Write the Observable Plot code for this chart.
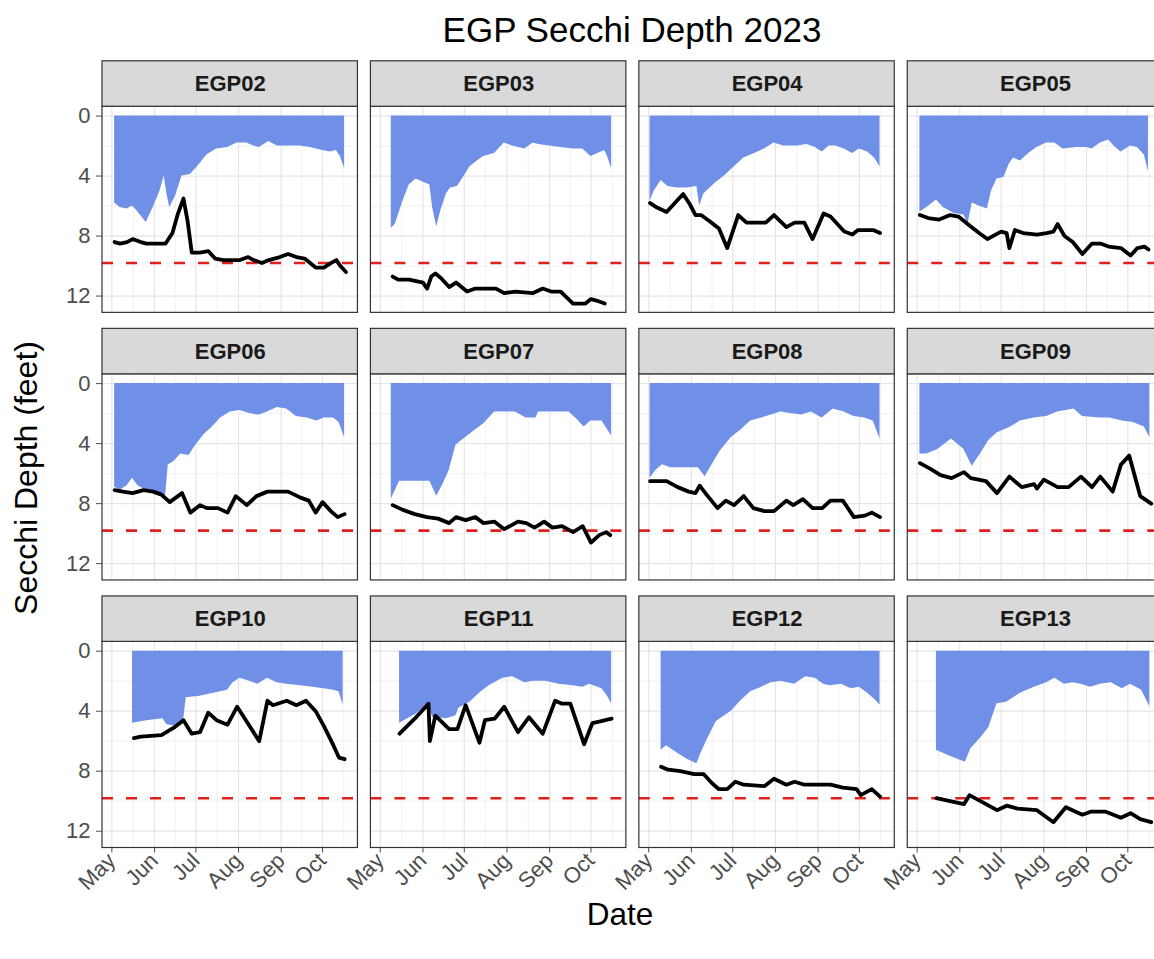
<!DOCTYPE html>
<html><head><meta charset="utf-8">
<script src="https://cdn.jsdelivr.net/npm/d3@7"></script>
<script src="https://cdn.jsdelivr.net/npm/@observablehq/plot@0.6"></script>
<style>
html,body{margin:0;padding:0;background:#fff;overflow:hidden;}
#wrap{position:relative;width:1154px;height:959px;overflow:hidden;font-family:"Liberation Sans",Arial,sans-serif;color:#000;}
#chart{position:absolute;left:0;top:0;width:1166px;height:959px;}
#chart svg{max-width:none !important;}
#title{position:absolute;left:0;width:1264px;top:9px;text-align:center;font-size:35px;line-height:42px;}
#ytitle{position:absolute;left:-274px;top:458px;width:600px;height:40px;line-height:40px;text-align:center;font-size:32px;transform:rotate(-90deg);transform-origin:50% 50%;}
#xtitle{position:absolute;left:0;width:1240px;top:894px;text-align:center;font-size:31.5px;line-height:40px;}
</style>
</head><body>
<div id="wrap">
  <div id="chart"></div>
  <div id="title">EGP Secchi Depth 2023</div>
  <div id="ytitle">Secchi Depth (feet)</div>
  <div id="xtitle">Date</div>
</div>
<script>
// ---- data (day = days after 1 May 2023, depth in feet) ----
const stations = ["EGP02","EGP03","EGP04","EGP05","EGP06","EGP07","EGP08","EGP09","EGP10","EGP11","EGP12","EGP13"];
const monthTicks = ["2023-05-01","2023-06-01","2023-07-01","2023-08-01","2023-09-01","2023-10-01"];
const monthLabels = ["May","Jun","Jul","Aug","Sep","Oct"];
const minorXTicks = ["2023-05-16T12:00","2023-06-16","2023-07-16T12:00","2023-08-16T12:00","2023-09-16","2023-10-16T12:00"];
const yMajorTicks = [0,4,8,12];
const yMinorTicks = [2,6,10];
const referenceDepth = 9.8;

const egp02Area = [[2,5.8],[6,6.1],[11,6.2],[15,6.0],[18,6.3],[25,7.1],[30,6.1],[35,5.0],[38,4.0],[40,5.2],[42,6.1],[46,5.4],[51,4.0],[57,3.9],[62,3.4],[69,2.6],[76,2.2],[84,2.1],[91,1.8],[98,1.8],[103,2.0],[107,2.1],[114,1.7],[120,2.0],[127,2.0],[137,2.0],[144,2.1],[153,2.3],[159,2.4],[163,2.3],[166,2.7],[169,3.5]];
const egp02Line = [[2,8.4],[6,8.5],[11,8.4],[15,8.2],[21,8.4],[25,8.5],[33,8.5],[39,8.5],[44,7.8],[48,6.5],[52,5.5],[55,7.0],[58,9.1],[64,9.1],[70,9.0],[75,9.5],[81,9.6],[87,9.6],[93,9.6],[99,9.4],[103,9.6],[109,9.8],[114,9.6],[122,9.4],[128,9.2],[134,9.4],[140,9.5],[148,10.1],[154,10.1],[159,9.8],[163,9.6],[166,10.0],[170,10.4]];

const egp03Area = [[8,7.5],[11,7.2],[16,5.8],[21,4.6],[26,4.2],[31,4.4],[36,4.6],[38,6.1],[41,7.4],[44,6.3],[48,5.2],[51,4.8],[56,4.7],[61,4.0],[65,3.4],[69,3.1],[75,2.7],[83,2.5],[86,2.2],[90,1.8],[96,2.0],[105,2.2],[111,1.8],[115,1.9],[123,2.0],[131,2.1],[140,2.2],[147,2.2],[153,2.7],[158,2.5],[163,2.3],[165,2.7],[168,3.5]];
const egp03Line = [[9,10.7],[13,10.9],[21,10.9],[31,11.1],[34,11.5],[37,10.7],[40,10.5],[44,10.8],[50,11.4],[55,11.1],[63,11.7],[69,11.5],[84,11.5],[90,11.8],[98,11.7],[111,11.8],[118,11.5],[124,11.7],[131,11.7],[140,12.5],[149,12.5],[153,12.2],[157,12.3],[163,12.5]];

const egp04Area = [[1,5.7],[4,5.0],[9,4.3],[14,4.7],[21,4.8],[28,4.8],[35,4.7],[37,6.0],[40,5.2],[48,4.5],[55,4.0],[62,3.4],[69,2.8],[77,2.5],[84,2.2],[91,1.8],[98,2.0],[108,2.0],[115,1.9],[121,2.1],[126,2.4],[131,2.0],[136,2.0],[142,2.2],[148,2.5],[153,2.2],[159,2.4],[164,2.8],[168,3.4]];
const egp04Line = [[1,5.8],[6,6.1],[13,6.4],[19,5.8],[25,5.2],[30,5.9],[34,6.6],[38,6.6],[44,7.0],[51,7.5],[57,8.8],[65,6.6],[71,7.1],[85,7.1],[91,6.6],[100,7.4],[106,7.1],[113,7.1],[119,8.2],[127,6.5],[132,6.7],[142,7.7],[148,7.9],[152,7.6],[163,7.6],[168,7.8]];

const egp05Area = [[2,6.4],[7,6.1],[14,5.6],[19,6.1],[27,6.5],[34,6.6],[37,7.2],[40,5.8],[45,6.0],[51,6.2],[54,5.0],[58,4.2],[63,4.1],[67,3.2],[70,2.8],[75,3.0],[81,2.5],[87,2.1],[94,1.8],[100,1.8],[106,2.2],[116,2.1],[123,2.1],[127,2.2],[133,1.8],[139,1.6],[143,2.0],[148,2.4],[155,2.0],[160,2.1],[165,2.6],[168,3.7]];
const egp05Line = [[2,6.6],[8,6.8],[16,6.9],[24,6.6],[30,6.7],[38,7.3],[45,7.8],[51,8.2],[61,7.7],[65,7.8],[67,8.8],[71,7.6],[77,7.8],[87,7.9],[94,7.8],[99,7.7],[102,7.2],[107,8.0],[113,8.4],[120,9.2],[127,8.5],[133,8.5],[139,8.7],[148,8.8],[155,9.3],[160,8.8],[165,8.7],[168,8.9]];

const egp06Area = [[2,6.9],[6,7.1],[11,6.8],[15,6.3],[19,6.8],[25,7.1],[33,7.2],[39,7.5],[41,5.4],[45,5.2],[50,4.7],[56,4.8],[61,4.1],[67,3.4],[73,2.9],[79,2.3],[86,1.9],[93,1.8],[100,2.0],[107,2.1],[113,1.9],[120,1.6],[127,1.7],[134,2.2],[142,2.3],[149,2.5],[154,2.3],[161,2.3],[165,2.6],[169,3.6]];
const egp06Line = [[2,7.1],[8,7.2],[15,7.3],[23,7.1],[30,7.2],[36,7.4],[42,7.9],[51,7.3],[57,8.6],[64,8.1],[69,8.3],[77,8.3],[84,8.6],[90,7.5],[98,8.1],[105,7.5],[113,7.2],[128,7.2],[137,7.6],[143,7.8],[148,8.6],[153,7.9],[159,8.5],[164,8.9],[169,8.7]];

const egp07Area = [[8,7.7],[14,6.5],[26,6.5],[36,6.5],[41,7.5],[45,6.8],[50,5.8],[55,4.1],[62,3.6],[69,3.1],[75,2.7],[83,1.9],[89,1.9],[98,1.9],[106,2.3],[113,2.3],[115,1.9],[127,1.9],[137,1.9],[143,2.4],[148,2.9],[153,2.5],[161,2.5],[168,3.5]];
const egp07Line = [[9,8.1],[16,8.4],[25,8.7],[34,8.9],[42,9.0],[50,9.3],[55,8.9],[62,9.1],[69,8.9],[75,9.3],[83,9.2],[90,9.7],[100,9.2],[106,9.3],[112,9.6],[119,9.2],[125,9.6],[132,9.5],[140,9.9],[147,9.5],[153,10.6],[159,10.1],[164,9.9],[167,10.1]];

const egp08Area = [[1,6.3],[5,5.8],[10,5.4],[16,5.6],[26,5.6],[36,5.6],[41,6.2],[46,5.4],[52,4.5],[60,3.6],[67,3.1],[74,2.5],[82,2.3],[89,2.1],[96,1.9],[103,2.0],[111,2.1],[118,1.9],[126,2.3],[134,1.7],[142,1.9],[149,2.2],[157,2.3],[163,2.5],[168,3.7]];
const egp08Line = [[1,6.5],[13,6.5],[21,6.9],[29,7.2],[34,7.3],[37,6.8],[42,7.4],[50,8.3],[56,7.8],[62,8.1],[69,7.5],[76,8.3],[84,8.5],[91,8.5],[100,7.8],[105,8.1],[112,7.7],[119,8.3],[126,8.3],[132,7.8],[141,7.8],[149,8.9],[157,8.8],[162,8.6],[168,8.9]];

const egp09Area = [[2,4.7],[7,4.7],[15,4.4],[25,3.7],[34,4.4],[40,5.5],[46,4.7],[52,3.8],[58,3.3],[68,2.9],[75,2.5],[85,2.3],[94,2.2],[102,1.9],[114,1.7],[120,2.2],[133,2.3],[140,2.3],[149,2.5],[157,2.6],[165,2.9],[169,3.6]];
const egp09Line = [[2,5.3],[10,5.7],[17,6.1],[25,6.3],[34,5.9],[39,6.3],[50,6.5],[58,7.3],[67,6.2],[76,6.9],[85,6.7],[87,7.0],[92,6.4],[102,6.9],[110,6.9],[119,6.2],[127,6.9],[133,6.2],[142,7.2],[148,5.4],[154,4.8],[157,5.8],[162,7.5],[170,8.0]];

const egp10Area = [[15,4.8],[21,4.7],[28,4.6],[37,4.5],[40,4.9],[47,5.0],[52,4.7],[54,3.1],[64,3.0],[84,2.6],[88,2.1],[93,1.8],[100,2.0],[106,2.2],[113,1.8],[120,2.1],[127,2.2],[137,2.3],[146,2.4],[154,2.5],[161,2.6],[165,2.7],[168,3.6]];
const egp10Line = [[16,5.8],[21,5.7],[36,5.6],[45,5.1],[52,4.6],[58,5.5],[64,5.4],[70,4.1],[76,4.6],[84,4.9],[91,3.7],[98,4.7],[107,6.0],[113,3.3],[117,3.6],[127,3.3],[134,3.6],[141,3.3],[148,4.0],[154,5.0],[161,6.3],[165,7.1],[169,7.2]];

const egp11Area = [[14,4.8],[26,4.2],[35,3.5],[38,4.4],[48,4.5],[55,4.3],[57,3.8],[65,3.4],[72,2.8],[79,2.3],[89,1.8],[96,1.7],[105,2.1],[111,2.0],[120,2.0],[130,2.2],[140,2.3],[147,2.4],[152,2.2],[161,2.5],[165,3.0],[168,3.5]];
const egp11Line = [[14,5.5],[25,4.5],[35,3.5],[36,6.0],[40,4.3],[50,5.2],[56,5.2],[62,3.6],[72,6.1],[76,4.6],[83,4.5],[90,3.7],[100,5.4],[108,4.4],[118,5.5],[127,3.3],[132,3.5],[138,3.5],[148,6.2],[154,4.8],[159,4.7],[168,4.5]];

const egp12Area = [[9,6.6],[13,6.3],[21,6.8],[28,7.2],[35,7.5],[38,6.8],[43,5.8],[49,4.7],[52,4.5],[60,4.0],[67,3.3],[74,2.7],[82,2.4],[89,2.1],[96,2.0],[106,2.2],[114,1.7],[121,1.8],[127,2.2],[132,2.3],[140,2.2],[147,2.5],[153,2.4],[159,2.8],[164,3.2],[168,3.6]];
const egp12Line = [[9,7.7],[14,7.9],[23,8.0],[33,8.2],[40,8.2],[46,8.8],[51,9.2],[57,9.2],[63,8.7],[69,8.9],[84,9.0],[91,8.5],[100,8.9],[106,8.7],[113,8.9],[132,8.9],[141,9.1],[151,9.2],[154,9.6],[162,9.2],[168,9.7]];

const egp13Area = [[14,6.6],[24,7.0],[35,7.4],[39,6.5],[46,5.8],[52,5.1],[58,3.5],[65,3.4],[75,2.8],[85,2.4],[94,2.1],[100,1.8],[107,2.2],[113,2.1],[119,2.2],[126,2.4],[133,2.2],[141,2.1],[149,2.5],[155,2.2],[163,2.6],[169,3.7]];
const egp13Line = [[14,9.8],[24,10.0],[34,10.2],[38,9.6],[46,10.0],[58,10.6],[65,10.3],[73,10.5],[87,10.6],[99,11.4],[108,10.4],[120,10.9],[126,10.7],[137,10.7],[148,11.1],[155,10.8],[162,11.2],[170,11.4]];

const areaSeries = [egp02Area,egp03Area,egp04Area,egp05Area,egp06Area,egp07Area,egp08Area,egp09Area,egp10Area,egp11Area,egp12Area,egp13Area];
const lineSeries = [egp02Line,egp03Line,egp04Line,egp05Line,egp06Line,egp07Line,egp08Line,egp09Line,egp10Line,egp11Line,egp12Line,egp13Line];

// ---- build tables ----
const may1 = Date.UTC(2023, 4, 1);
const toDate = d => new Date(may1 + d * 864e5);
const iso = s => new Date(s.length > 10 ? s + "Z" : s + "T00:00Z");
const panel = i => ({station: stations[i], col: i % 4, row: Math.floor(i / 4)});
const areaRows = areaSeries.flatMap((s, i) => s.map(([d, v]) => ({...panel(i), date: toDate(d), depth: v})));
const lineRows = lineSeries.flatMap((s, i) => s.map(([d, v]) => ({...panel(i), date: toDate(d), depth: v})));
const strips = stations.map((_, i) => panel(i));

const xMin = toDate(-6.8), xMax = toDate(178.7), xMid = toDate(86);
const panelTop = -0.62, panelBottom = 13.12, stripTop = -3.65;
const majorX = monthTicks.map(iso), minorX = minorXTicks.map(iso);

const W = 1166, H = 959;
const chart = Plot.plot({
  width: W, height: H,
  marginLeft: 102, marginRight: W - 1162.7, marginTop: 60.8, marginBottom: H - 847.5,
  facet: {marginTop: 0, marginRight: 0, marginBottom: 0, marginLeft: 0},
  fx: {axis: null, domain: [0,1,2,3], paddingInner: 0.0484, paddingOuter: 0, round: false},
  fy: {axis: null, domain: [0,1,2], paddingInner: 0.0598, paddingOuter: 0, round: false},
  x: {type: "utc", domain: [xMin, xMax]},
  y: {domain: [stripTop, panelBottom], reverse: true},
  style: {fontFamily: '"Liberation Sans", Arial, sans-serif', background: "transparent", overflow: "visible", maxWidth: "none"},
  marks: [
    Plot.ruleX(minorX, {y1: panelTop, y2: panelBottom, stroke: "#EBEBEB", strokeWidth: 0.7}),
    Plot.ruleY(yMinorTicks, {stroke: "#EBEBEB", strokeWidth: 0.7}),
    Plot.ruleX(majorX, {y1: panelTop, y2: panelBottom, stroke: "#E6E6E6", strokeWidth: 1.2}),
    Plot.ruleY(yMajorTicks, {stroke: "#E6E6E6", strokeWidth: 1.2}),
    Plot.areaY(areaRows, {x: "date", y1: 0, y2: "depth", fx: "col", fy: "row", fill: "#7090E8", curve: "linear"}),
    Plot.ruleY([referenceDepth], {stroke: "#E0201F", strokeWidth: 2.6, strokeDasharray: "11,13"}),
    Plot.line(lineRows, {x: "date", y: "depth", fx: "col", fy: "row", stroke: "black", strokeWidth: 3.8}),
    Plot.rect(strips, {x1: () => xMin, x2: () => xMax, y1: panelTop, y2: panelBottom, fx: "col", fy: "row", fill: "none", stroke: "#333333", strokeWidth: 1.2}),
    Plot.rect(strips, {x1: () => xMin, x2: () => xMax, y1: stripTop, y2: panelTop, fx: "col", fy: "row", fill: "#D9D9D9", stroke: "#333333", strokeWidth: 1.2}),
    Plot.text(strips, {x: () => xMid, y: (stripTop + panelTop) / 2, text: "station", fx: "col", fy: "row", fontSize: 22, fontWeight: "bold", fill: "#1A1A1A"}),
    Plot.axisY({ticks: yMajorTicks, tickFormat: d => String(d), facetAnchor: "left", tickSize: 6, tickPadding: 6, fontSize: 22, color: "#4D4D4D", label: null}),
    Plot.axisX({ticks: majorX, tickFormat: d => monthLabels[d.getUTCMonth() - 4], facetAnchor: "bottom", tickRotate: -45, tickSize: 5, tickPadding: 4, fontSize: 22, color: "#4D4D4D", label: null})
  ]
});
document.getElementById("chart").appendChild(chart);
</script>
</body></html>
